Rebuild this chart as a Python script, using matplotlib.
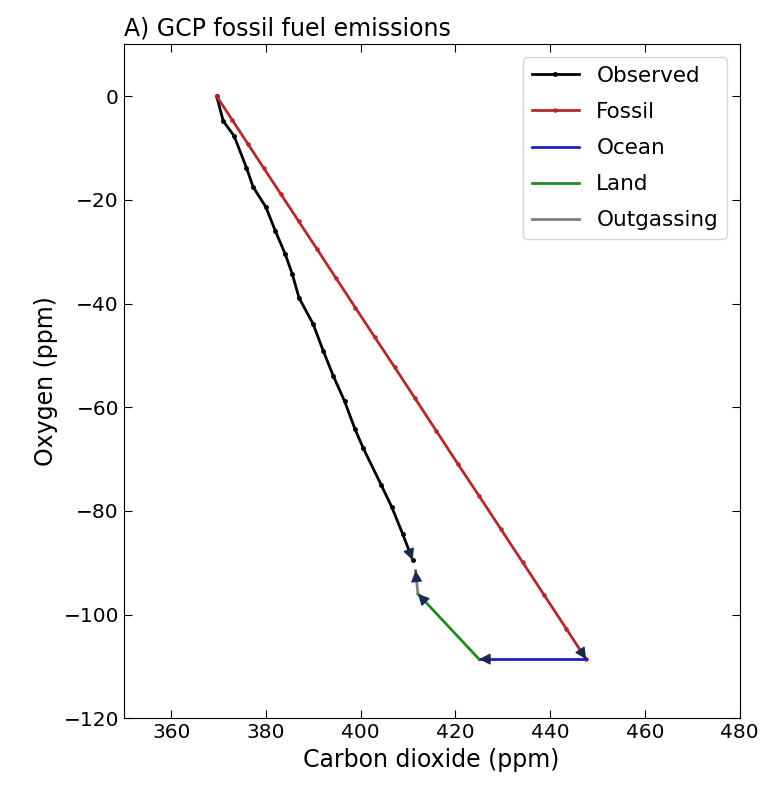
import matplotlib
matplotlib.use('Agg')
import matplotlib.pyplot as plt

# Observed CO2 / O2 (annual, ppm)
obs_co2 = [369.6, 371.0, 373.3, 375.9, 377.3, 380.0, 382.0, 384.1, 385.6, 387.0,
           390.0, 392.1, 394.2, 396.6, 398.8, 400.5, 404.4, 406.6, 408.9, 411.0]
obs_o2 = [0.0, -4.8, -7.7, -13.8, -17.5, -21.4, -26.0, -30.5, -34.4, -38.9,
          -44.0, -49.1, -53.9, -58.8, -64.2, -67.8, -75.1, -79.3, -84.5, -89.5]

# Fossil fuel emissions path
fossil_co2 = [369.6, 372.9, 376.2, 379.5, 383.1, 386.9, 390.8, 394.8, 398.9, 403.0,
              407.2, 411.5, 416.0, 420.5, 425.0, 429.6, 434.2, 438.8, 443.4, 447.6]
fossil_o2 = [0.0, -4.6, -9.2, -13.8, -18.8, -24.1, -29.5, -35.1, -40.8, -46.5,
             -52.3, -58.3, -64.6, -70.9, -77.1, -83.5, -89.9, -96.3, -102.7, -108.6]

# sinks: start / end points
ocean_co2 = [447.6, 425.0]
ocean_o2 = [-108.6, -108.6]
land_co2 = [425.0, 412.1]
land_o2 = [-108.6, -96.0]
outgas_co2 = [412.1, 411.6]
outgas_o2 = [-96.0, -91.5]

head_col = '#1b2a55'

fig = plt.figure(figsize=(7.64, 7.91), dpi=100)
ax = fig.add_axes([0.162, 0.092, 0.806, 0.852])


def head(x, y):
    # arrow head at the end of a path
    ax.annotate('', xy=(x[-1], y[-1]),
                xytext=(x[-1] - (x[-1] - x[-2]) * 0.03, y[-1] - (y[-1] - y[-2]) * 0.03),
                arrowprops=dict(arrowstyle='-|>', color=head_col, lw=1,
                                mutation_scale=17, shrinkA=0, shrinkB=0),
                zorder=5)


ax.plot(obs_co2, obs_o2, color='black', marker='.', ms=5, lw=2, label='Observed')
ax.plot(fossil_co2, fossil_o2, color='#b22a2a', marker='.', ms=4.5, lw=2, label='Fossil')
ax.plot(ocean_co2, ocean_o2, color='#1a22c8', lw=2, label='Ocean')
ax.plot(land_co2, land_o2, color='#1f8a1f', lw=2, label='Land')
ax.plot(outgas_co2, outgas_o2, color='grey', lw=2, label='Outgassing')

head(obs_co2, obs_o2)
head(fossil_co2, fossil_o2)
head(ocean_co2, ocean_o2)
head(land_co2, land_o2)
head(outgas_co2, outgas_o2)

ax.set_xlim(350, 480)
ax.set_ylim(-120, 10)
ax.set_xticks(range(360, 481, 20))
ax.set_yticks(range(-120, 1, 20))
ax.tick_params(direction='in', top=True, right=True, length=6, labelsize=14.5)
ax.set_xlabel('Carbon dioxide (ppm)', fontsize=17)
ax.set_ylabel('Oxygen (ppm)', fontsize=17)
ax.set_title('A) GCP fossil fuel emissions', loc='left', fontsize=17)
ax.legend(loc='upper right', fontsize=15.5, labelspacing=0.75, handlelength=2.2,
          borderaxespad=0.6)

fig.savefig('out.png', dpi=100)
